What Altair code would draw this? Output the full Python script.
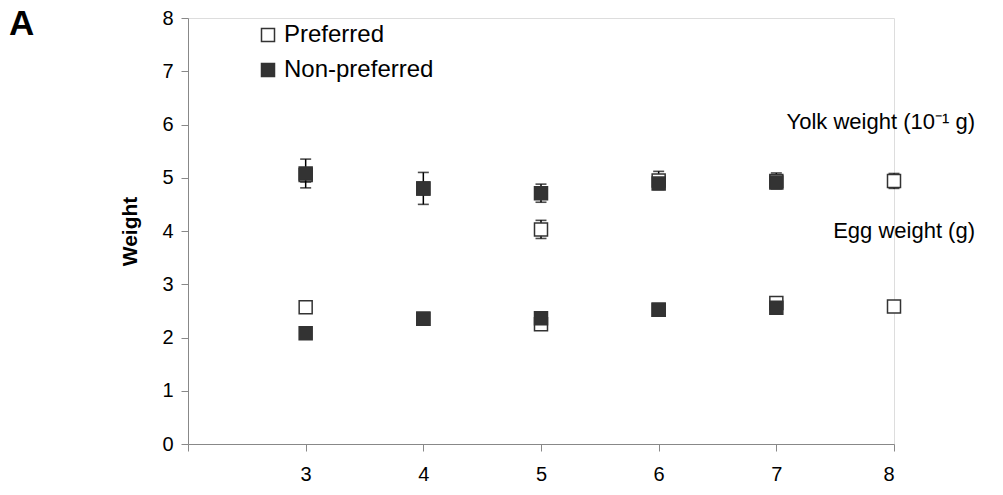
import altair as alt
import pandas as pd

# Days post oviposition (x) and mean weights with error half-widths
dpo = [3, 4, 5, 6, 7, 8]
yolk_pref = [5.05, 4.80, 4.03, 4.95, 4.94, 4.94]
yolk_pref_err = [0.13, 0.10, 0.17, 0.17, 0.15, 0.14]
egg_pref = [2.57, 2.35, 2.25, 2.52, 2.65, 2.58]
egg_pref_err = [0.05, 0.05, 0.05, 0.05, 0.05, 0.05]

dpo_non = [3, 4, 5, 6, 7]
yolk_non = [5.08, 4.80, 4.71, 4.89, 4.91]
yolk_non_err = [0.27, 0.30, 0.17, 0.10, 0.08]
egg_non = [2.08, 2.35, 2.36, 2.52, 2.56]
egg_non_err = [0.05, 0.05, 0.05, 0.05, 0.05]

groups = ["Preferred", "Non-preferred"]
x_ticks = [2, 3, 4, 5, 6, 7, 8]
y_ticks = [0, 1, 2, 3, 4, 5, 6, 7, 8]

FONT = "Liberation Sans"
DARK = "#333333"

rows = []
def add(group, xs, vals, errs, measure):
    for x, v, e in zip(xs, vals, errs):
        rows.append({"dpo": x, "group": group, "measure": measure,
                     "value": v, "lo": v - e, "hi": v + e})

add("Preferred", dpo, yolk_pref, yolk_pref_err, "yolk")
add("Preferred", dpo, egg_pref, egg_pref_err, "egg")
add("Non-preferred", dpo_non, yolk_non, yolk_non_err, "yolk")
add("Non-preferred", dpo_non, egg_non, egg_non_err, "egg")
df = pd.DataFrame(rows)

x_scale = alt.Scale(domain=[2, 8], nice=False)
y_scale = alt.Scale(domain=[0, 8], nice=False)

x_enc = alt.X("dpo:Q", scale=x_scale, title=None,
              axis=alt.Axis(values=x_ticks, format="d",
                            labelExpr="datum.value == 2 ? '' : datum.label",
                            grid=False, domainColor="#888888", tickColor="#888888",
                            tickSize=7, labelFont=FONT, labelFontSize=20,
                            labelColor="black", labelPadding=13))
y_enc = alt.Y("value:Q", scale=y_scale, title="Weight",
              axis=alt.Axis(values=y_ticks, format="d", grid=False, domainColor="#888888",
                            tickColor="#888888", tickSize=7, labelFont=FONT,
                            labelFontSize=20, labelColor="black", labelPadding=8,
                            titleFont=FONT, titleFontSize=21, titleFontWeight="bold",
                            titleColor="black", titlePadding=21))

fill_scale = alt.Scale(domain=groups, range=["white", DARK])

base = alt.Chart(df)


def layer_for(group):
    sub = base.transform_filter(alt.datum.group == group)
    rule = sub.mark_rule(color="black", strokeWidth=1.5).encode(
        x=alt.X("dpo:Q", scale=x_scale), y=alt.Y("lo:Q", scale=y_scale), y2="hi:Q")
    cap_lo = sub.mark_tick(color="black", orient="horizontal", size=11, thickness=1.6).encode(
        x=alt.X("dpo:Q", scale=x_scale), y=alt.Y("lo:Q", scale=y_scale))
    cap_hi = sub.mark_tick(color="black", orient="horizontal", size=11, thickness=1.6).encode(
        x=alt.X("dpo:Q", scale=x_scale), y=alt.Y("hi:Q", scale=y_scale))
    pts = sub.mark_point(shape="square", filled=True, size=169, stroke=DARK,
                         strokeWidth=1.5, opacity=1).encode(
        x=x_enc, y=y_enc,
        fill=alt.Fill("group:N", scale=fill_scale, sort=groups,
                      legend=alt.Legend(title=None, orient="none", legendX=68, legendY=5,
                                        symbolType="square", symbolSize=169,
                                        symbolStrokeColor=DARK, symbolStrokeWidth=1.5,
                                        labelFont=FONT, labelFontSize=24,
                                        labelColor="black", labelOffset=4,
                                        rowPadding=11)))
    return [rule, cap_lo, cap_hi, pts]


def label(text, x, y, size=22, weight="normal", align="right"):
    return alt.Chart(pd.DataFrame({"t": [text]})).mark_text(
        font=FONT, fontSize=size, fontWeight=weight, align=align,
        baseline="middle", color="black").encode(
        text="t:N", x=alt.value(x), y=alt.value(y))


annotations = [
    label("Yolk weight (10\u207b\u00b9 g)", 787, 104),
    label("Egg weight (g)", 787, 213),
    label("A", -179, 6, size=35, weight="bold", align="left"),
]

chart = alt.layer(*layer_for("Preferred"), *layer_for("Non-preferred"), *annotations).properties(
    width=706, height=426,
    autosize=alt.AutoSizeParams(type="none"),
    padding={"left": 188, "top": 18, "right": 109, "bottom": 51},
).configure_view(stroke=None).configure(background="white")

chart.save("out.html", embed_options={"renderer": "svg", "actions": False})
